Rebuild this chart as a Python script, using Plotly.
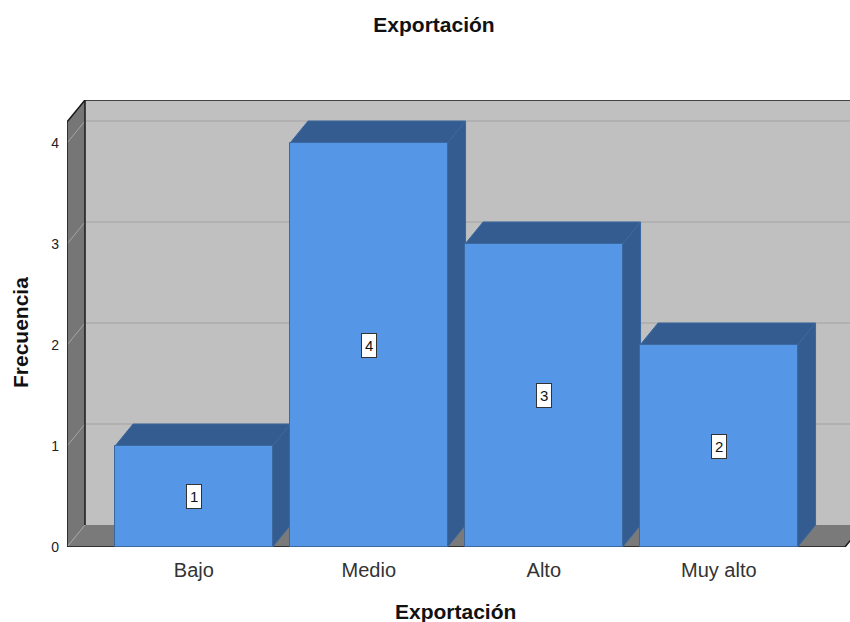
import plotly.graph_objects as go

# ---- data ----
categories = ["Bajo", "Medio", "Alto", "Muy alto"]
frequencies = [1, 4, 3, 2]
y_ticks = [0, 1, 2, 3, 4]
title_text = "Exportación"
x_title = "Exportación"
y_title = "Frecuencia"

# ---- geometry (data units) ----
BAR_W = 0.9
DX = 18 / 175      # depth offset in x
DY = 22 / 101      # depth offset in y
X0 = -0.7246       # front-left of the 3D box
X1 = 3.721         # front-right of the 3D box
TOP = 4.208        # front top of the box
XR = [X0, X0 + 783 / 175]
YR = [0, TOP + DY]

FRONT = "#5596e6"
DARK = "#345c90"
EDGE = "#3a689f"
WALL_BACK = "#c0c0c0"
WALL_SIDE = "#767676"
FLOOR = "#7a7a7a"


def path(pts):
    return "M " + " L ".join(f"{x},{y}" for x, y in pts) + " Z"


def line(pts):
    return "M " + " L ".join(f"{x},{y}" for x, y in pts)


shapes = []
# back wall
shapes.append(dict(type="path", path=path([(X0 + DX, DY), (X0 + DX, TOP + DY), (X1 + DX + 1, TOP + DY), (X1 + DX + 1, DY)]),
                   fillcolor=WALL_BACK, line=dict(width=0), layer="below"))
# left wall
shapes.append(dict(type="path", path=path([(X0, 0), (X0, TOP), (X0 + DX, TOP + DY), (X0 + DX, DY)]),
                   fillcolor=WALL_SIDE, line=dict(width=0), layer="below"))
# floor
shapes.append(dict(type="path", path=path([(X0, 0), (X1, 0), (X1 + DX, DY), (X0 + DX, DY)]),
                   fillcolor=FLOOR, line=dict(width=0), layer="below"))
# gridlines on back wall and left wall
for v in y_ticks:
    if v > 0:
        shapes.append(dict(type="path", path=line([(X0 + DX, v + DY), (X1 + DX + 1, v + DY)]),
                           line=dict(color="#acacac", width=1.5), layer="below"))
    shapes.append(dict(type="path", path=line([(X0, v), (X0 + DX, v + DY)]),
                       line=dict(color="#a4a4a4", width=1), layer="below"))
# box edges
shapes.append(dict(type="path", path=line([(X0 + DX, DY), (X0 + DX, TOP + DY)]),
                   line=dict(color="#1a1a1a", width=1.5), layer="below"))
shapes.append(dict(type="path", path=line([(X0, 0), (X0, TOP), (X0 + DX, TOP + DY), (X1 + DX + 1, TOP + DY)]),
                   line=dict(color="#1a1a1a", width=1.5), layer="below"))
shapes.append(dict(type="path", path=line([(X0, 0), (X1, 0), (X1 + DX, DY)]),
                   line=dict(color="#1a1a1a", width=1.5), layer="below"))

# 3D bar faces
for i, v in enumerate(frequencies):
    l, r = i - BAR_W / 2, i + BAR_W / 2
    shapes.append(dict(type="path", path=path([(l, v), (l + DX, v + DY), (r + DX, v + DY), (r, v)]),
                       fillcolor=DARK, line=dict(color=EDGE, width=1), layer="below"))
    shapes.append(dict(type="path", path=path([(r, 0), (r, v), (r + DX, v + DY), (r + DX, DY)]),
                       fillcolor=DARK, line=dict(color=EDGE, width=1), layer="below"))

fig = go.Figure()
fig.add_trace(go.Bar(
    x=list(range(len(categories))), y=frequencies, width=BAR_W,
    marker=dict(color=FRONT, line=dict(color=EDGE, width=1)),
    hoverinfo="skip", showlegend=False,
))

annotations = []
for i, v in enumerate(frequencies):
    annotations.append(dict(x=i, y=v / 2, xref="x", yref="y", text=str(v), showarrow=False,
                            font=dict(family="Liberation Sans", size=15, color="#111"),
                            bgcolor="white", bordercolor="#333", borderwidth=1, borderpad=3))
annotations.append(dict(x=(20 - 67) / 783, y=(547 - 333) / 447, xref="paper", yref="paper",
                        text=f"<b>{y_title}</b>", textangle=-90, showarrow=False,
                        xanchor="center", yanchor="middle",
                        font=dict(family="Liberation Sans", size=21, color="#111")))
annotations.append(dict(x=(455 - 67) / 783, y=-(611 - 547) / 447, xref="paper", yref="paper",
                        text=f"<b>{x_title}</b>", showarrow=False,
                        xanchor="center", yanchor="middle",
                        font=dict(family="Liberation Sans", size=21, color="#111")))

fig.update_layout(
    width=850, height=622,
    margin=dict(l=67, r=0, t=100, b=75),
    paper_bgcolor="white", plot_bgcolor="white",
    title=dict(text=f"<b>{title_text}</b>", x=434 / 850, y=1 - 25 / 622, xref="container", yref="container",
               xanchor="center", yanchor="middle",
               font=dict(family="Liberation Sans", size=21, color="#111")),
    shapes=shapes, annotations=annotations,
    xaxis=dict(range=XR, tickvals=list(range(len(categories))), ticktext=categories,
               showgrid=False, zeroline=False, showline=False, ticks="",
               ticklabelstandoff=9,
               tickfont=dict(family="Liberation Sans", size=20, color="#333"),
               fixedrange=True),
    yaxis=dict(range=YR, tickvals=y_ticks, ticktext=[str(t) for t in y_ticks],
               showgrid=False, zeroline=False, showline=False, ticks="",
               ticklabelstandoff=7,
               tickfont=dict(family="Liberation Sans", size=14, color="#222"),
               fixedrange=True),
    bargap=0,
)

fig.write_html("out.html")
